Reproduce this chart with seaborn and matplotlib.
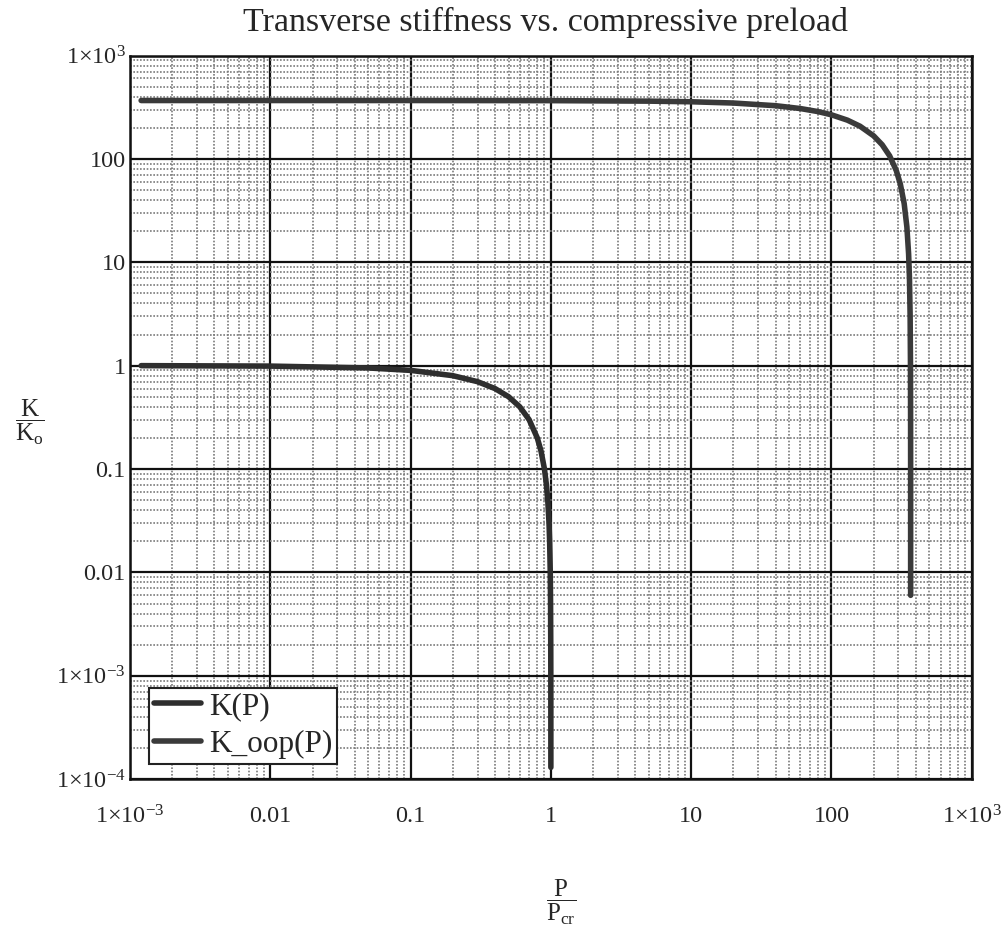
import matplotlib
matplotlib.use('Agg')
import matplotlib.pyplot as plt
import matplotlib.ticker as mticker
import seaborn as sns
import pandas as pd

# K(P): in-plane stiffness ratio vs load ratio
p_k = [0.0012, 0.01, 0.05, 0.1, 0.2, 0.3, 0.4, 0.5, 0.6, 0.7, 0.8, 0.85,
       0.9, 0.93, 0.95, 0.97, 0.98, 0.99, 0.995, 0.998, 0.999, 0.9995, 0.99987]
k_vals = [1.0, 0.99, 0.95, 0.9, 0.8, 0.7, 0.6, 0.5, 0.4, 0.3, 0.2, 0.15,
          0.1, 0.07, 0.05, 0.03, 0.02, 0.01, 0.005, 0.002, 0.001, 5e-4, 1.3e-4]

# K_oop(P): out-of-plane stiffness ratio
p_oop = [0.0012, 0.01, 0.1, 1, 5, 10, 20, 40, 60, 80, 100, 130, 160, 200, 230,
         260, 290, 310, 330, 345, 355, 360, 364, 366, 366.7, 366.9, 366.994]
k_oop_vals = [367, 367, 367, 366, 362, 357, 347, 327, 307, 287, 267, 237, 207,
              167, 137, 107, 77, 57, 37, 22, 12, 7, 3, 1, 0.3, 0.1, 0.006]

series_names = ['K(P)', 'K_oop(P)']

x_ticks = [1e-3, 1e-2, 1e-1, 1, 10, 100, 1e3]
x_labels = [r'$1{\times}10^{-3}$', '0.01', '0.1', '1', '10', '100', r'$1{\times}10^{3}$']
y_ticks = [1e-4, 1e-3, 1e-2, 1e-1, 1, 10, 100, 1e3]
y_labels = [r'$1{\times}10^{-4}$', r'$1{\times}10^{-3}$', '0.01', '0.1', '1', '10',
            '100', r'$1{\times}10^{3}$']

df = pd.concat([
    pd.DataFrame({'P': p_k, 'K': k_vals, 'series': series_names[0]}),
    pd.DataFrame({'P': p_oop, 'K': k_oop_vals, 'series': series_names[1]}),
])

sns.set_style('white')
plt.rcParams['font.family'] = ['Liberation Serif', 'DejaVu Serif']
plt.rcParams['mathtext.fontset'] = 'custom'
plt.rcParams['mathtext.rm'] = 'Liberation Serif'
plt.rcParams['mathtext.it'] = 'Liberation Serif:italic'
plt.rcParams['mathtext.bf'] = 'Liberation Serif:bold'

fig = plt.figure(figsize=(10.08, 9.41), dpi=100)
ax = fig.add_axes([0.129, 0.172, 0.835, 0.769])

ax.set_xscale('log')
ax.set_yscale('log')

sns.lineplot(data=df, x='P', y='K', hue='series', hue_order=series_names,
             palette=['#2e2e2e', '#3a3a3a'], linewidth=4, sort=False,
             estimator=None, ax=ax, zorder=5)

ax.set_xlim(1e-3, 1e3)
ax.set_ylim(1e-4, 1e3)

ax.xaxis.set_major_locator(mticker.FixedLocator(x_ticks))
ax.xaxis.set_major_formatter(mticker.FixedFormatter(x_labels))
ax.yaxis.set_major_locator(mticker.FixedLocator(y_ticks))
ax.yaxis.set_major_formatter(mticker.FixedFormatter(y_labels))
ax.xaxis.set_minor_locator(mticker.LogLocator(base=10, subs=range(2, 10), numticks=50))
ax.yaxis.set_minor_locator(mticker.LogLocator(base=10, subs=range(2, 10), numticks=50))
ax.xaxis.set_minor_formatter(mticker.NullFormatter())
ax.yaxis.set_minor_formatter(mticker.NullFormatter())

ax.grid(which='major', color='#111111', linestyle='-', linewidth=1.6)
ax.grid(which='minor', color='#7a7a7a', linestyle=(0, (1, 1)), linewidth=1.2)
ax.tick_params(which='both', length=0)
ax.tick_params(axis='x', pad=19, labelsize=17.5)
ax.tick_params(axis='y', pad=3, labelsize=17.5)

for s in ax.spines.values():
    s.set_color('#111111')
    s.set_linewidth(1.8)

ax.set_xlabel('')
ax.set_ylabel('')

leg = ax.legend(loc='lower left', bbox_to_anchor=(0.023, 0.021), fontsize=22.5,
                frameon=True, fancybox=False, framealpha=1, edgecolor='#222222',
                handlelength=1.5, handletextpad=0.25, borderpad=0.15,
                labelspacing=0.28, borderaxespad=0)
leg.get_frame().set_linewidth(1.5)

fig.text(0.541, 0.976, 'Transverse stiffness vs. compressive preload',
         ha='center', va='center', fontsize=24.5)
fig.text(0.030, 0.551, r'$\dfrac{\mathrm{K}}{\mathrm{K_o}}$', ha='center', va='center',
         fontsize=18)
fig.text(0.557, 0.041, r'$\dfrac{\mathrm{P}}{\mathrm{P_{cr}}}$', ha='center', va='center',
         fontsize=18)

fig.savefig('out.png', dpi=100)
